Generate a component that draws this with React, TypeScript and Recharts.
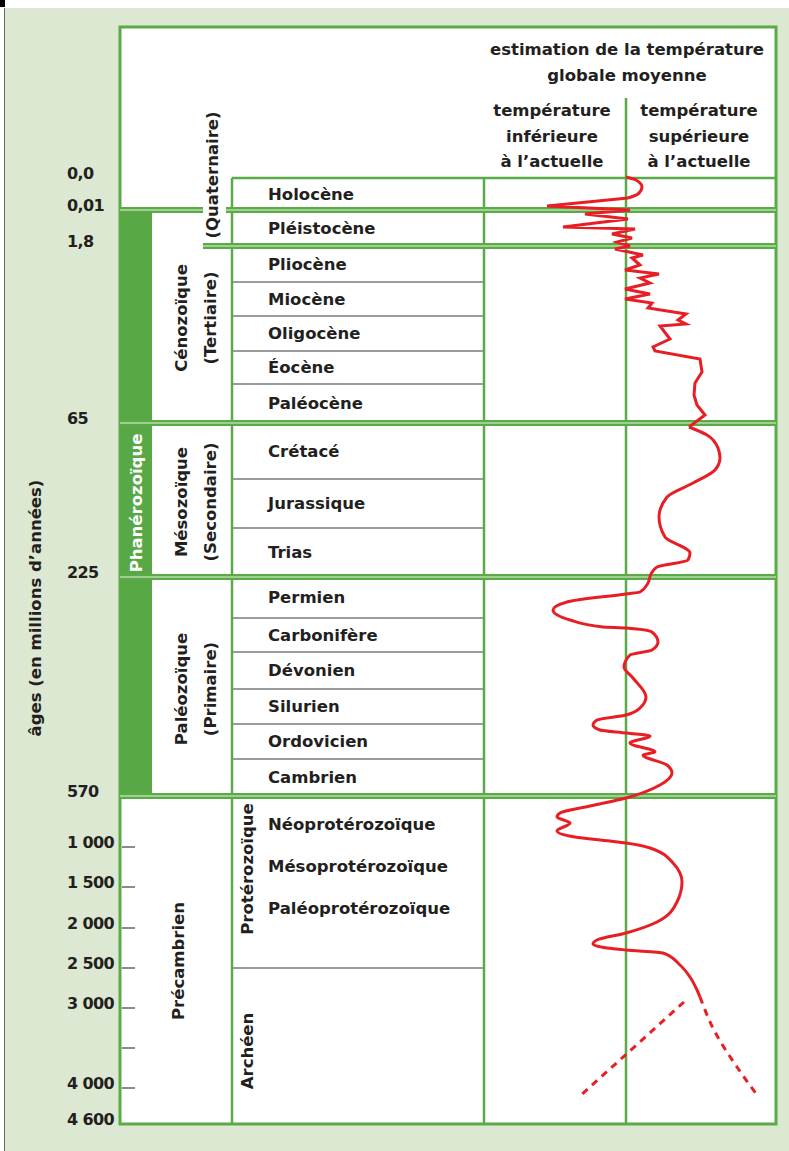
import React from 'react';
import { ComposedChart, Scatter, XAxis, YAxis, ReferenceArea, ReferenceLine, Label } from 'recharts';

const FONT = '"DejaVu Sans", Verdana, sans-serif';
const INK = '#231f20';
const GREEN = '#5aab47';
const GREEN_LIGHT = '#b7dca9';
const PHANERO = '#58a846';
const GRAY = '#7a7a7a';
const RED = '#e81e25';
const BG = '#dce8d2';
const TEXT_SIZE = 16.5;

// ---- schematic vertical scale (position units from top of panel) ----
const agePositions = [151, 183, 219, 396, 550, 769, 820, 860, 901, 941, 981, 1061, 1097];
const ageLabels = ['0,0', '0,01', '1,8', '65', '225', '570', '1 000', '1 500', '2 000', '2 500', '3 000', '4 000', '4 600'];
const precambrianTicks = [820, 860, 901, 941, 981, 1021, 1061];

// ---- columns (layout units from left of panel) ----
const COL = { phanEnd: 32, eraEnd: 112, epochEnd: 364, present: 506, end: 656, quatL: 83, quatR: 106 };
const PANEL_H = 1097;

// ---- epochs ----
const epochNames = ['Holocène', 'Pléistocène', 'Pliocène', 'Miocène', 'Oligocène', 'Éocène', 'Paléocène', 'Crétacé', 'Jurassique', 'Trias', 'Permien', 'Carbonifère', 'Dévonien', 'Silurien', 'Ordovicien', 'Cambrien', 'Néoprotérozoïque', 'Mésoprotérozoïque', 'Paléoprotérozoïque'];
const epochTops = [151, 183, 219, 255, 289, 324, 357, 396, 452, 501, 550, 591, 625, 662, 697, 732, 776, 818, 860];
const epochBottoms = [183, 219, 255, 289, 324, 357, 396, 452, 501, 550, 591, 625, 662, 697, 732, 769, 818, 860, 902];
const epochDividers = [255, 289, 324, 357, 452, 501, 591, 625, 662, 697, 732, 941];
const eraBoundaries = [396, 550, 769];

// table handed to the chart (gives the layout axis its rows)
const epochTable = epochNames.map((name, i) => ({ name, column: COL.eraEnd, top: epochTops[i], bottom: epochBottoms[i] }));

// ---- era labels ----
const eraTexts = [
  { lines: ['Cénozoïque', '(Tertiaire)'], cx: 75.5, cy: 291 },
  { lines: ['Mésozoïque', '(Secondaire)'], cx: 75.5, cy: 475 },
  { lines: ['Paléozoïque', '(Primaire)'], cx: 75.5, cy: 662 },
  { lines: ['Précambrien'], cx: 58, cy: 934 },
  { lines: ['Protérozoïque'], cx: 127, cy: 842 },
  { lines: ['Archéen'], cx: 127, cy: 1024 },
  { lines: ['(Quaternaire)'], cx: 92, cy: 148 },
];

const headerTitle = ['estimation de la température', 'globale moyenne'];
const headerCold = ['température', 'inférieure', 'à l\u2019actuelle'];
const headerWarm = ['température', 'supérieure', 'à l\u2019actuelle'];
const axisTitle = 'âges (en millions d\u2019années)';

// ---- temperature curve (t: relative to present, pos: vertical position) ----
const holoceneBulge = [
  { t: 0.0, pos: 150 }, { t: 1.0, pos: 153 }, { t: 1.6, pos: 160 }, { t: 1.2, pos: 167 }, { t: 0.2, pos: 171 },
];
const cenozoicZigzag = [
  { t: 0.2, pos: 171 }, { t: -7.9, pos: 179 }, { t: 0.4, pos: 183 }, { t: -4.1, pos: 187 }, { t: 0.2, pos: 192 },
  { t: -6.3, pos: 200 }, { t: 0.9, pos: 202 }, { t: -1.4, pos: 207 }, { t: 0.6, pos: 211 }, { t: -0.9, pos: 215 },
  { t: 0.4, pos: 219 }, { t: -1.1, pos: 222 }, { t: 1.7, pos: 228 }, { t: 0.6, pos: 231 }, { t: 1.4, pos: 238 },
  { t: -0.1, pos: 243 }, { t: 3.3, pos: 247 }, { t: 1.4, pos: 251 }, { t: 2.4, pos: 256 }, { t: -0.1, pos: 262 },
  { t: 2.4, pos: 267 }, { t: -0.1, pos: 272 }, { t: 2.6, pos: 276 }, { t: 2.2, pos: 281 }, { t: 6.0, pos: 287 },
  { t: 5.2, pos: 293 }, { t: 6.0, pos: 297 }, { t: 3.4, pos: 299 }, { t: 4.4, pos: 312 }, { t: 2.7, pos: 320 },
  { t: 2.9, pos: 324 }, { t: 7.4, pos: 332 }, { t: 7.6, pos: 345 }, { t: 6.9, pos: 356 }, { t: 6.8, pos: 368 },
  { t: 7.1, pos: 378 }, { t: 7.9, pos: 388 }, { t: 6.3, pos: 400 },
];
const mainCurve = [
  { t: 6.3, pos: 400 }, { t: 8.1, pos: 408 }, { t: 9.2, pos: 421 }, { t: 9.4, pos: 431 }, { t: 8.9, pos: 443 },
  { t: 6.7, pos: 456 }, { t: 4.1, pos: 470 }, { t: 3.3, pos: 490 }, { t: 3.9, pos: 510 }, { t: 6.4, pos: 526 },
  { t: 6.2, pos: 533 }, { t: 3.1, pos: 540 }, { t: 2.5, pos: 547 }, { t: 2.2, pos: 556 }, { t: 1.4, pos: 565 },
  { t: 0.0, pos: 567 }, { t: -5.9, pos: 575 }, { t: -7.3, pos: 583 }, { t: -5.6, pos: 593 }, { t: -2.3, pos: 600 },
  { t: 0.0, pos: 601 }, { t: 2.6, pos: 605 }, { t: 3.2, pos: 615 }, { t: 2.6, pos: 623 }, { t: 0.4, pos: 628 },
  { t: -0.2, pos: 640 }, { t: 0.7, pos: 651 }, { t: 2.0, pos: 670 }, { t: 1.4, pos: 681 }, { t: 0.0, pos: 688 },
  { t: -2.9, pos: 693 }, { t: -3.3, pos: 698 }, { t: -2.6, pos: 703 }, { t: 0.1, pos: 706 }, { t: 2.4, pos: 709 },
  { t: 0.4, pos: 716 }, { t: 2.9, pos: 725 }, { t: 1.7, pos: 728 }, { t: 4.1, pos: 738 }, { t: 4.6, pos: 746 },
  { t: 3.4, pos: 758 }, { t: 0.0, pos: 771 }, { t: -3.6, pos: 779 }, { t: -6.6, pos: 786 }, { t: -6.9, pos: 790 },
  { t: -5.6, pos: 796 }, { t: -6.9, pos: 804 }, { t: -5.1, pos: 810 }, { t: -1.6, pos: 814 }, { t: 0.0, pos: 816 },
  { t: 2.4, pos: 821 }, { t: 4.7, pos: 836 }, { t: 5.6, pos: 855 }, { t: 5.1, pos: 875 }, { t: 3.1, pos: 895 },
  { t: 0.0, pos: 906 }, { t: -2.9, pos: 913 }, { t: -3.3, pos: 917 }, { t: -1.9, pos: 921 }, { t: 0.0, pos: 923 },
  { t: 3.7, pos: 926 }, { t: 5.4, pos: 938 }, { t: 6.4, pos: 950 }, { t: 7.1, pos: 963 }, { t: 7.4, pos: 970 },
];
const archeanWarm = [
  { t: 7.4, pos: 970 }, { t: 8.9, pos: 1005 }, { t: 11.1, pos: 1040 }, { t: 13.1, pos: 1068 },
];
const archeanCold = [
  { t: 5.8, pos: 975 }, { t: -4.6, pos: 1069 },
];

// ---- helpers ----
type TextSpec = { lines: string[]; angle?: number; size?: number; color?: string; gap?: number; anchor?: 'start' | 'middle'; inset?: number; weight?: number };
const textContent = (spec: TextSpec) => (props: any) => {
  const vb = props.viewBox || {};
  const x = vb.x || 0, y = vb.y || 0, width = vb.width || 0, height = vb.height || 0;
  const size = spec.size ?? TEXT_SIZE;
  const gap = spec.gap ?? size * 1.4;
  const anchor = spec.anchor ?? 'middle';
  const cx = anchor === 'start' ? x + (spec.inset ?? 0) : x + width / 2;
  const cy = y + height / 2;
  const n = spec.lines.length;
  return (
    <g transform={`translate(${cx},${cy}) rotate(${spec.angle ?? 0})`}>
      {spec.lines.map((l, i) => (
        <text key={i} x={0} y={(i - (n - 1) / 2) * gap} textAnchor={anchor} dominantBaseline="central"
          fontFamily={FONT} fontWeight={spec.weight ?? 700} fontSize={size} fill={spec.color ?? INK}>{l}</text>
      ))}
    </g>
  );
};

const AgeTick = (props: any) => {
  const { y, payload } = props;
  const i = agePositions.indexOf(payload.value);
  return (
    <text x={67} y={y + 1} fontFamily={FONT} fontWeight={700} fontSize={16} letterSpacing={-0.6} fill={INK}>{ageLabels[i]}</text>
  );
};

const noDot = () => <g />;

const seg = (x1: number, y1: number, x2: number, y2: number) => [{ x: x1, y: y1 }, { x: x2, y: y2 }];

const doubleLines: { pos: number; from: number; to: number }[] = [
  { pos: 183, from: 0, to: COL.quatL },
  { pos: 183, from: COL.quatR, to: COL.end },
  { pos: 219, from: COL.quatL, to: COL.end },
  ...eraBoundaries.map((p) => ({ pos: p, from: 0, to: COL.end })),
];

export default function App() {
  const ax = { xAxisId: 'layout', yAxisId: 'pos' } as const;
  return (
    <div style={{ position: 'absolute', left: 0, top: 0, width: 789, height: 1151, background: '#fff', overflow: 'hidden' }}>
      <div style={{ position: 'absolute', left: 5, top: 8, width: 784, height: 1143, background: BG }} />
      <div style={{ position: 'absolute', left: 4, top: 8, width: 1, height: 1143, background: '#666' }} />
      <div style={{ position: 'absolute', left: 0, top: 0, width: 5, height: 7, background: '#000' }} />
      <div style={{ position: 'absolute', left: 0, top: 0 }}>
        <ComposedChart width={789} height={1151} data={epochTable} margin={{ top: 27, right: 13, bottom: 27, left: 119 }}>
          <XAxis xAxisId="layout" type="number" dataKey="column" domain={[0, COL.end]} hide allowDataOverflow />
          <XAxis xAxisId="temp" type="number" dataKey="t" domain={[-50.6, 15]} hide allowDataOverflow />
          <YAxis yAxisId="pos" type="number" dataKey="pos" domain={[0, PANEL_H]} reversed allowDataOverflow
            width={1} axisLine={false} tickLine={false} ticks={agePositions} interval={0} tick={<AgeTick />} />

          {/* panel */}
          <ReferenceArea {...ax} x1={0} x2={COL.end} y1={0} y2={PANEL_H} fill="#fff" fillOpacity={1} stroke={GREEN} strokeWidth={3} ifOverflow="visible" />
          {/* Phanérozoïque column */}
          <ReferenceArea {...ax} x1={0} x2={COL.phanEnd} y1={185} y2={767} fill={PHANERO} fillOpacity={1} stroke="none">
            <Label content={textContent({ lines: ['Phanérozoïque'], angle: -90, color: '#fff' })} />
          </ReferenceArea>

          {/* gray epoch dividers */}
          {epochDividers.map((p) => (
            <ReferenceLine key={'g' + p} {...ax} segment={seg(COL.eraEnd, p, COL.epochEnd, p)} stroke={GRAY} strokeWidth={1.5} />
          ))}
          {/* precambrian tick marks */}
          {precambrianTicks.map((p) => (
            <ReferenceLine key={'t' + p} {...ax} segment={seg(2, p, 15, p)} stroke="#666" strokeWidth={1.5} />
          ))}

          {/* green structure lines */}
          <ReferenceLine {...ax} segment={seg(COL.eraEnd, 151, COL.end, 151)} stroke={GREEN} strokeWidth={2.5} />
          <ReferenceLine {...ax} segment={seg(COL.eraEnd, 151, COL.eraEnd, PANEL_H)} stroke={GREEN} strokeWidth={2.5} />
          <ReferenceLine {...ax} segment={seg(COL.epochEnd, 151, COL.epochEnd, PANEL_H)} stroke={GREEN} strokeWidth={2.5} />
          <ReferenceLine {...ax} segment={seg(COL.present, 71, COL.present, PANEL_H)} stroke={GREEN} strokeWidth={2.5} />
          {doubleLines.map((d, i) => (
            <ReferenceLine key={'d' + i} {...ax} segment={seg(d.from, d.pos, d.to, d.pos)} stroke={GREEN} strokeWidth={6} />
          ))}
          {doubleLines.map((d, i) => (
            <ReferenceLine key={'dl' + i} {...ax} segment={seg(d.from, d.pos, d.to, d.pos)} stroke={GREEN_LIGHT} strokeWidth={1.4} />
          ))}

          {/* epoch names */}
          {epochTable.map((row) => (
            <ReferenceArea key={row.name} {...ax} x1={row.column} x2={COL.epochEnd} y1={row.top} y2={row.bottom} fill="none" stroke="none">
              <Label content={textContent({ lines: [row.name], anchor: 'start', inset: 36 })} />
            </ReferenceArea>
          ))}

          {/* era names */}
          {eraTexts.map((e) => (
            <ReferenceArea key={e.lines[0]} {...ax} x1={e.cx - 1} x2={e.cx + 1} y1={e.cy - 1} y2={e.cy + 1} fill="none" stroke="none">
              <Label content={textContent({ lines: e.lines, angle: -90, gap: 29 })} />
            </ReferenceArea>
          ))}

          {/* headers */}
          <ReferenceArea {...ax} x1={506} x2={508} y1={34} y2={36} fill="none" stroke="none">
            <Label content={textContent({ lines: headerTitle, gap: 26 })} />
          </ReferenceArea>
          <ReferenceArea {...ax} x1={431} x2={433} y1={108} y2={110} fill="none" stroke="none">
            <Label content={textContent({ lines: headerCold, gap: 25.5 })} />
          </ReferenceArea>
          <ReferenceArea {...ax} x1={578} x2={580} y1={108} y2={110} fill="none" stroke="none">
            <Label content={textContent({ lines: headerWarm, gap: 25.5 })} />
          </ReferenceArea>

          {/* axis title */}
          <ReferenceArea {...ax} x1={-86} x2={-84} y1={580} y2={582} fill="none" stroke="none" ifOverflow="visible">
            <Label content={textContent({ lines: [axisTitle], angle: -90 })} />
          </ReferenceArea>

          {/* temperature curve */}
          <Scatter xAxisId="temp" yAxisId="pos" data={holoceneBulge} fill={RED} shape={noDot} line={{ stroke: RED, strokeWidth: 3 }} lineJointType="monotoneY" isAnimationActive={false} />
          <Scatter xAxisId="temp" yAxisId="pos" data={cenozoicZigzag} fill={RED} shape={noDot} line={{ stroke: RED, strokeWidth: 3, strokeLinejoin: 'miter' }} lineJointType="linear" isAnimationActive={false} />
          <Scatter xAxisId="temp" yAxisId="pos" data={mainCurve} fill={RED} shape={noDot} line={{ stroke: RED, strokeWidth: 3 }} lineJointType="monotoneY" isAnimationActive={false} />
          <Scatter xAxisId="temp" yAxisId="pos" data={archeanWarm} fill={RED} shape={noDot} line={{ stroke: RED, strokeWidth: 3, strokeDasharray: '7 6' }} lineJointType="monotoneY" isAnimationActive={false} />
          <Scatter xAxisId="temp" yAxisId="pos" data={archeanCold} fill={RED} shape={noDot} line={{ stroke: RED, strokeWidth: 3, strokeDasharray: '7 6' }} lineJointType="linear" isAnimationActive={false} />
        </ComposedChart>
      </div>
    </div>
  );
}
